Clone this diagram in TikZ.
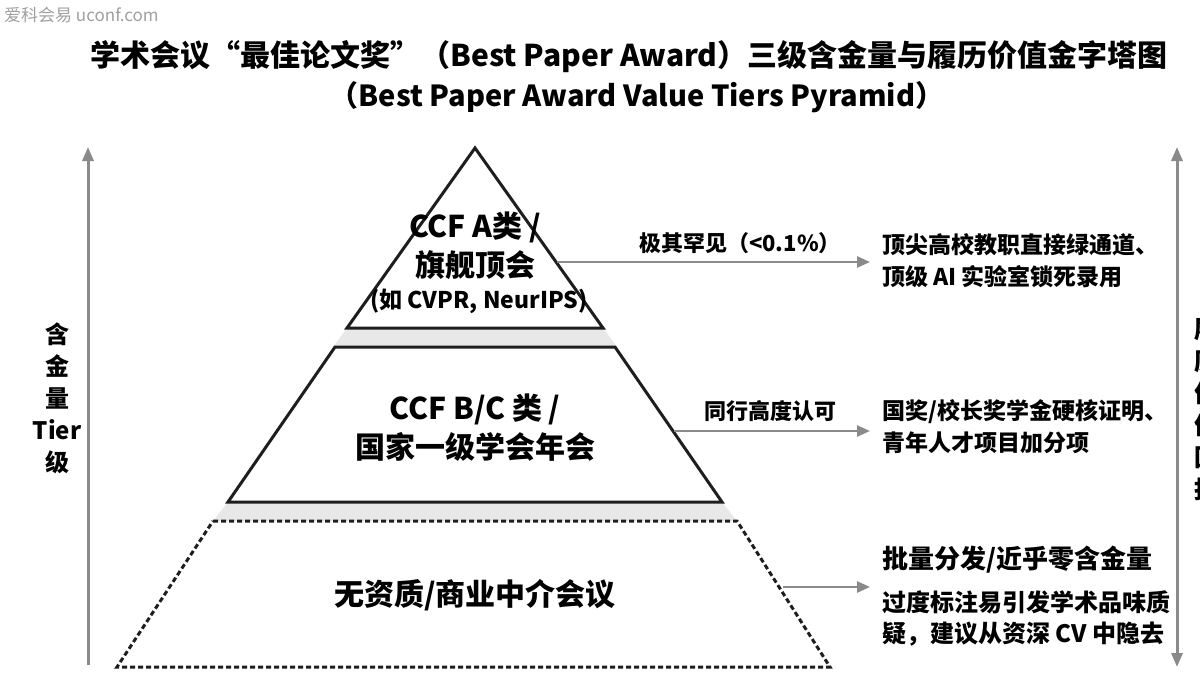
\documentclass[tikz,border=0pt]{standalone}
\usepackage{fontspec}
\setmainfont{Noto Sans CJK SC}
\usepackage{tikz}
\usetikzlibrary{arrows.meta,calc}
\definecolor{axisgray}{HTML}{8A8A8A}
\definecolor{bandgray}{HTML}{E8E8E8}
\definecolor{inkgray}{HTML}{1E1E1E}
\definecolor{markgray}{HTML}{A0A0A0}
\tikzset{
  tier/.style={draw=inkgray, line width=3pt, line join=miter, fill=white},
  band/.style={fill=bandgray, draw=none},
  axis/.style={draw=axisgray, line width=3pt},
  link/.style={draw=axisgray, line width=2.5pt, -{Triangle[length=13pt,width=11pt]}, shorten >=12pt},
  tiertxt/.style={font=\bfseries\fontsize{30}{39}\selectfont, align=center, inner sep=0pt},
  subtxt/.style={font=\bfseries\fontsize{23}{28}\selectfont, align=center, inner sep=0pt},
  note/.style={font=\bfseries\fontsize{23}{32}\selectfont, align=left, inner sep=0pt, anchor=west},
  linktxt/.style={font=\bfseries\fontsize{22}{28}\selectfont, inner sep=0pt},
  sidetxt/.style={font=\bfseries\fontsize{24}{32}\selectfont, align=center, inner sep=0pt},
  titletxt/.style={font=\bfseries\fontsize{30}{36}\selectfont, inner sep=0pt}
}

\begin{document}
\begin{tikzpicture}[x=1pt, y=-1pt]
\fill[white] (0,0) rectangle (1200,680);
\useasboundingbox (0,0) rectangle (1200,680);

% watermark and title
\node[font=\fontsize{17}{20}\selectfont, text=markgray, anchor=west, inner sep=0pt] (wm) at (4,15) {爱科会易 uconf.com};
\node[titletxt] (title1) at (629,57) {学术会议“最佳论文奖”（Best Paper Award）三级含金量与履历价值金字塔图};
\node[titletxt, font=\bfseries\fontsize{29}{36}\selectfont] (title2) at (637,97) {（Best Paper Award Value Tiers Pyramid）};

% shadow bands between the tiers
\fill[band] (347,328) -- (603,328) -- (617,347) -- (333,347) -- cycle;
\fill[band] (228,502) -- (722,502) -- (737,521) -- (213,521) -- cycle;

% pyramid tiers
\draw[tier] (475,148) -- (603,328) -- (347,328) -- cycle;
\draw[tier] (335,347) -- (615,347) -- (722,502) -- (228,502) -- cycle;
\draw[tier, dash pattern=on 5pt off 3pt] (213,521) -- (737,521) -- (830,667) -- (117,667) -- cycle;

% tier texts
\node[tiertxt] (a) at (475,246) {CCF A类 /\\旗舰顶会};
\node[subtxt] (a2) at (479,301) {(如 CVPR, NeurIPS)};
\node[tiertxt] (b) at (475,428) {CCF B/C 类 /\\国家一级学会年会};
\node[tiertxt] (c) at (475,595) {无资质/商业中介会议};

% notes on the right
\node[note] (n1) at (882,261) {顶尖高校教职直接绿通道、\\顶级 AI 实验室锁死录用};
\node[note] (n2) at (882,427) {国奖/校长奖学金硬核证明、\\青年人才项目加分项};
\node[note, font=\bfseries\fontsize{26}{32}\selectfont] (n3) at (882,560) {批量分发/近乎零含金量};
\node[note, font=\bfseries\fontsize{24}{31}\selectfont] (n4) at (882,618) {过度标注易引发学术品味质\\疑，建议从资深 CV 中隐去};

% links
\coordinate (s1) at (557,262);
\coordinate (s2) at (674,431);
\coordinate (s3) at (783,587);
\draw[link] (s1) -- (s1 -| n1.west);
\draw[link] (s2) -- (s2 -| n2.west);
\draw[link] (s3) -- (s3 -| n3.west);
\node[linktxt] (l1) at (740,243) {极其罕见（<0.1\%）};
\node[linktxt] (l2) at (770,411) {同行高度认可};

% side axes
\coordinate (lb) at (88,665);
\coordinate (lt) at (88,147);
\coordinate (rb) at (1177,667);
\coordinate (rt) at (1177,147);
\draw[axis, -{Triangle[length=14pt,width=11pt]}] (lb) -- (lt);
\draw[axis, {Triangle[length=14pt,width=11pt]}-{Triangle[length=14pt,width=11pt]}] (rb) -- (rt);
\node[sidetxt] (ly) at (57,398) {含\\金\\量\\Tier\\级};
\node[sidetxt] (ry) at (1206,410) {履\\历\\价\\值\\回\\报};
\end{tikzpicture}
\end{document}
